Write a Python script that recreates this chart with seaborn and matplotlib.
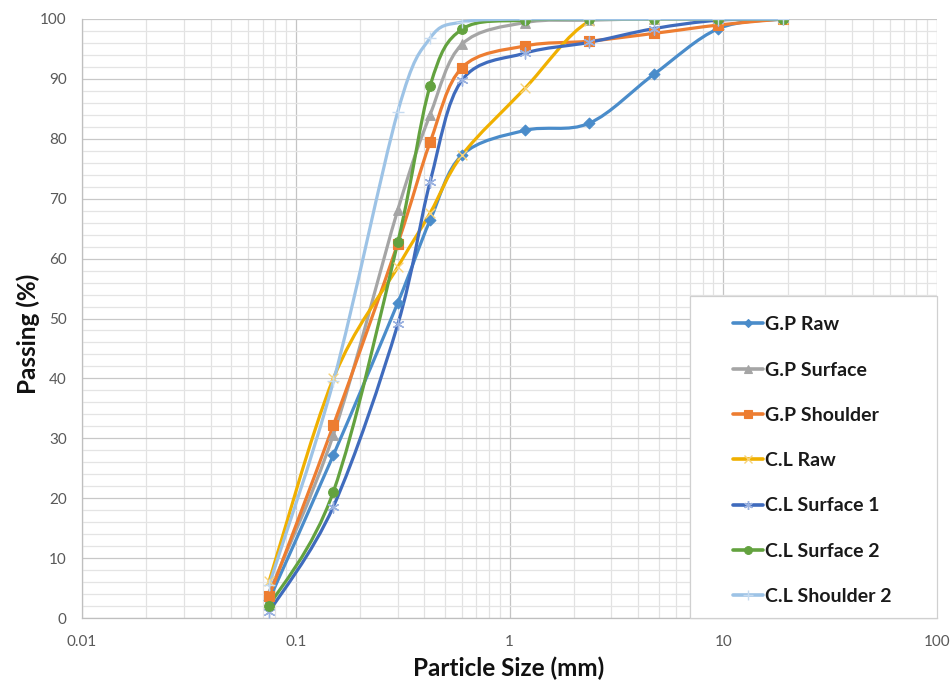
import numpy as np
import pandas as pd
import matplotlib
matplotlib.use("Agg")
import matplotlib.pyplot as plt
import seaborn as sns
from matplotlib.path import Path
from matplotlib.patches import PathPatch, Rectangle
from matplotlib.lines import Line2D
from matplotlib.ticker import MultipleLocator, LogLocator, NullFormatter

# Sieve sizes (mm)
sieve_mm = [0.075, 0.15, 0.3, 0.425, 0.6, 1.18, 2.36, 4.75, 9.5, 19]

# Percent passing for each sample
gp_raw = [3.0, 27.2, 52.6, 66.4, 77.3, 81.4, 82.6, 90.8, 98.4, 100]
gp_surface = [4.2, 30.6, 68.1, 84.0, 95.8, 99.4, 99.8, 100, 100, 100]
gp_shoulder = [3.6, 32.2, 62.5, 79.4, 91.9, 95.5, 96.3, 97.6, 99.0, 100]
cl_raw = [6.1, 40.0, 58.6, 67.6, 77.3, 88.4, 99.6, 100, 100, 100]
cl_surface1 = [1.0, 18.6, 49.0, 72.8, 89.8, 94.3, 96.1, 98.4, 99.8, 100]
cl_surface2 = [2.0, 21.1, 62.7, 88.8, 98.3, 99.8, 100, 100, 100, 100]
cl_shoulder2 = [5.5, 39.5, 84.5, 96.8, 99.5, 100, 100, 100, 100, 100]

series_names = ["G.P Raw", "G.P Surface", "G.P Shoulder", "C.L Raw",
                "C.L Surface 1", "C.L Surface 2", "C.L Shoulder 2"]
series_values = [gp_raw, gp_surface, gp_shoulder, cl_raw,
                 cl_surface1, cl_surface2, cl_shoulder2]

# line colour, marker, marker face/edge colour, marker size, marker edge width
styles = {
    "G.P Raw":        dict(color="#4a8cca", marker="D", mfc="#4a8cca", mec="#4a8cca", ms=5.5, mew=0.8),
    "G.P Surface":    dict(color="#a5a5a5", marker="^", mfc="#a5a5a5", mec="#a5a5a5", ms=7, mew=0.8),
    "G.P Shoulder":   dict(color="#ed7d31", marker="s", mfc="#ed7d31", mec="#ed7d31", ms=7, mew=0.8),
    "C.L Raw":        dict(color="#f0b000", marker="x", mfc="none", mec="#f7d37a", ms=7, mew=1.0),
    "C.L Surface 1":  dict(color="#3f6bbd", marker=(6, 2, 0), mfc="none", mec="#9bb2e0", ms=8, mew=1.0),
    "C.L Surface 2":  dict(color="#63a23f", marker="o", mfc="#63a23f", mec="#63a23f", ms=7, mew=0.8),
    "C.L Shoulder 2": dict(color="#9dc3e6", marker="+", mfc="none", mec="#c6dbf0", ms=9, mew=1.0),
}

df = pd.DataFrame({name: vals for name, vals in zip(series_names, series_values)})
df["size"] = sieve_mm
long_df = df.melt(id_vars="size", var_name="sample", value_name="passing")

sns.set_theme(style="white")
plt.rcParams["font.family"] = ["Lato", "DejaVu Sans"]

fig = plt.figure(figsize=(9.52, 6.84), dpi=100)
ax = fig.add_axes([82 / 952, 66 / 684, 855 / 952, 599 / 684])
ax.set_xscale("log")
ax.set_xlim(0.01, 100)
ax.set_ylim(0, 100)


def smooth_path(xs, ys):
    """Cubic Bezier through the points, tangents from neighbours (log-x space)."""
    u = np.log10(np.asarray(xs, float))
    v = np.asarray(ys, float)
    n = len(u)
    pts = np.column_stack([u, v])
    verts = [pts[0]]
    codes = [Path.MOVETO]
    for i in range(n - 1):
        p0 = pts[i - 1] if i > 0 else pts[i]
        p1 = pts[i]
        p2 = pts[i + 1]
        p3 = pts[i + 2] if i + 2 < n else pts[i + 1]
        c1 = p1 + (p2 - p0) / 6.0
        c2 = p2 - (p3 - p1) / 6.0
        verts += [c1, c2, p2]
        codes += [Path.CURVE4] * 3
    verts = np.array(verts)
    verts[:, 0] = 10 ** verts[:, 0]
    return Path(verts, codes)


handles = []
for name in series_names:
    st = styles[name]
    sub = long_df[long_df["sample"] == name]
    patch = PathPatch(smooth_path(sub["size"], sub["passing"]), facecolor="none",
                      edgecolor=st["color"], lw=2.3, capstyle="round",
                      joinstyle="round", zorder=3)
    ax.add_patch(patch)
    filled = st["mfc"] != "none"
    if filled:
        sns.scatterplot(x=sub["size"], y=sub["passing"], ax=ax, marker=st["marker"],
                        color=st["mfc"], edgecolor=st["mec"], s=st["ms"] ** 2,
                        linewidth=st["mew"], zorder=4, legend=False)
    else:
        sns.scatterplot(x=sub["size"], y=sub["passing"], ax=ax, marker=st["marker"],
                        color=st["mec"], s=st["ms"] ** 2,
                        linewidth=st["mew"], zorder=4, legend=False)
    handles.append(Line2D([], [], color=st["color"], lw=2.6, marker=st["marker"],
                          markerfacecolor=st["mfc"], markeredgecolor=st["mec"],
                          markersize=st["ms"] * 0.8, markeredgewidth=st["mew"],
                          label=name))

# Grid
ax.xaxis.set_major_locator(LogLocator(base=10, numticks=10))
ax.xaxis.set_minor_locator(LogLocator(base=10, subs=np.arange(2, 10), numticks=20))
ax.xaxis.set_minor_formatter(NullFormatter())
ax.set_xticks([0.01, 0.1, 1, 10, 100])
ax.set_xticklabels(["0.01", "0.1", "1", "10", "100"])
ax.yaxis.set_major_locator(MultipleLocator(10))
ax.yaxis.set_minor_locator(MultipleLocator(2))
ax.set_axisbelow(True)
ax.grid(which="major", axis="x", color="#c4c4c4", lw=0.9)
ax.grid(which="minor", axis="x", color="#e2e2e2", lw=0.9)
ax.grid(which="major", axis="y", color="#c8c8c8", lw=0.9)
ax.grid(which="minor", axis="y", color="#e4e4e4", lw=0.9)

for side in ["top", "right"]:
    ax.spines[side].set_visible(False)
for side in ["left", "bottom"]:
    ax.spines[side].set_color("#bfbfbf")
    ax.spines[side].set_linewidth(0.9)

ax.tick_params(axis="both", which="major", direction="out", length=5, width=0.9,
               color="#bfbfbf", labelsize=11, labelcolor="#595959")
ax.tick_params(axis="x", which="major", pad=7)
ax.tick_params(axis="y", which="major", pad=6)
ax.tick_params(axis="x", which="minor", direction="out", length=2.5, width=0.8, color="#cfcfcf")
ax.tick_params(axis="y", which="minor", length=0)

ax.set_xlabel("Particle Size (mm)", fontsize=17.5, fontweight="bold", color="#111111")
ax.set_ylabel("Passing (%)", fontsize=17.5, fontweight="bold", color="#111111")
ax.xaxis.label.set_va("center")
ax.yaxis.label.set_va("center")
ax.xaxis.set_label_coords(0.4994, -0.0835)
ax.yaxis.set_label_coords(-0.063, 0.474)

# Legend panel
box = Rectangle((0.7111, 0.0), 1.0 - 0.7111, 0.5376, transform=ax.transAxes,
                facecolor="white", edgecolor="#d0d0d0", lw=0.9, zorder=5, clip_on=False)
ax.add_patch(box)
leg = ax.legend(handles=handles, loc="upper left", bbox_to_anchor=(0.7505, 0.5200),
                frameon=False, borderpad=0, handlelength=1.5,
                handletextpad=0.12, labelspacing=1.455, prop=dict(weight="bold", size=14))
leg.set_zorder(6)
for t in leg.get_texts():
    t.set_color("#1a1a1a")

fig.savefig("out.png", dpi=100, facecolor="white")
